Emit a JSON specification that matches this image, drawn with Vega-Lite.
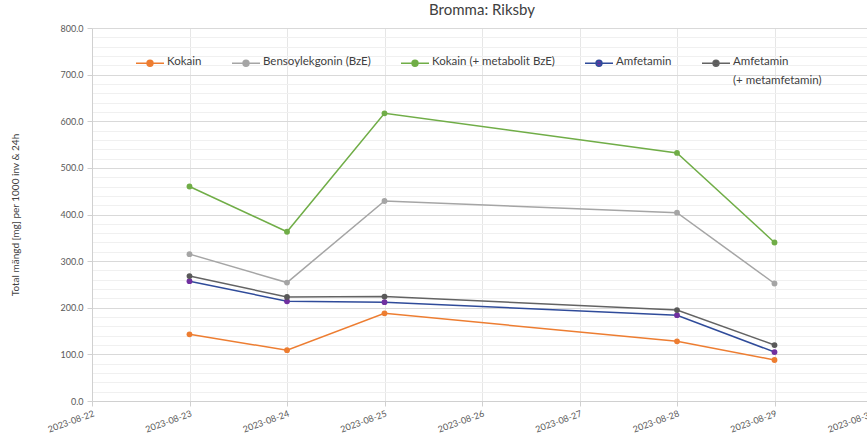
{
  "$schema": "https://vega.github.io/schema/vega-lite/v6.json",
  "width": 780,
  "height": 373,
  "autosize": {"type": "none"},
  "padding": {"left": 92, "top": 28, "right": 0, "bottom": 45},
  "background": "white",
  "config": {
    "font": "Lato",
    "view": {"stroke": null},
    "title": {"font": "Lato", "fontSize": 15, "fontWeight": "normal", "color": "#404040", "offset": 6}
  },
  "title": {"text": "Bromma: Riksby", "anchor": "middle"},
  "data": {
    "values": [
      {"date": "2023-08-23", "series": "Kokain", "value": 143},
      {"date": "2023-08-24", "series": "Kokain", "value": 109},
      {"date": "2023-08-25", "series": "Kokain", "value": 188},
      {"date": "2023-08-28", "series": "Kokain", "value": 128},
      {"date": "2023-08-29", "series": "Kokain", "value": 88},
      {"date": "2023-08-23", "series": "Bensoylekgonin (BzE)", "value": 315},
      {"date": "2023-08-24", "series": "Bensoylekgonin (BzE)", "value": 254},
      {"date": "2023-08-25", "series": "Bensoylekgonin (BzE)", "value": 429},
      {"date": "2023-08-28", "series": "Bensoylekgonin (BzE)", "value": 404},
      {"date": "2023-08-29", "series": "Bensoylekgonin (BzE)", "value": 252},
      {"date": "2023-08-23", "series": "Kokain (+ metabolit BzE)", "value": 460},
      {"date": "2023-08-24", "series": "Kokain (+ metabolit BzE)", "value": 363},
      {"date": "2023-08-25", "series": "Kokain (+ metabolit BzE)", "value": 617},
      {"date": "2023-08-28", "series": "Kokain (+ metabolit BzE)", "value": 532},
      {"date": "2023-08-29", "series": "Kokain (+ metabolit BzE)", "value": 340},
      {"date": "2023-08-23", "series": "Amfetamin", "value": 257},
      {"date": "2023-08-24", "series": "Amfetamin", "value": 214},
      {"date": "2023-08-25", "series": "Amfetamin", "value": 212},
      {"date": "2023-08-28", "series": "Amfetamin", "value": 184},
      {"date": "2023-08-29", "series": "Amfetamin", "value": 105},
      {"date": "2023-08-23", "series": "Amfetamin (+ metamfetamin)", "value": 268},
      {"date": "2023-08-24", "series": "Amfetamin (+ metamfetamin)", "value": 223},
      {"date": "2023-08-25", "series": "Amfetamin (+ metamfetamin)", "value": 224},
      {"date": "2023-08-28", "series": "Amfetamin (+ metamfetamin)", "value": 195},
      {"date": "2023-08-29", "series": "Amfetamin (+ metamfetamin)", "value": 120}
    ]
  },
  "encoding": {
    "x": {
      "field": "date",
      "type": "temporal",
      "scale": {"type": "utc", "domain": [{"year": 2023, "month": 8, "date": 22, "utc": true}, {"year": 2023, "month": 8, "date": 30, "utc": true}], "nice": false},
      "axis": {
        "title": null,
        "labelExpr": "utcFormat(datum.value, '%Y-%m-%d')",
        "tickCount": {"interval": "day", "step": 1},
        "labelAngle": -20,
        "labelAlign": "right",
        "labelBaseline": "top",
        "labelFontSize": 9,
        "labelColor": "#595959",
        "labelPadding": 3,
        "labelOverlap": false,
        "labelBound": false,
        "labelFlush": false,
        "domainColor": "#d0d0d0",
        "tickColor": "#d0d0d0",
        "tickSize": 5,
        "grid": true,
        "gridColor": "#e6e6e6"
      }
    },
    "y": {
      "field": "value",
      "type": "quantitative",
      "scale": {"domain": [0, 800], "nice": false},
      "axis": {
        "title": "Total mängd [mg] per 1000 inv & 24h",
        "titleFontSize": 10,
        "titleFontWeight": "normal",
        "titleColor": "#404040",
        "titleX": -72,
        "values": [0, 20, 40, 60, 80, 100, 120, 140, 160, 180, 200, 220, 240, 260, 280, 300, 320, 340, 360, 380, 400, 420, 440, 460, 480, 500, 520, 540, 560, 580, 600, 620, 640, 660, 680, 700, 720, 740, 760, 780, 800],
        "labelExpr": "datum.value % 100 === 0 ? format(datum.value, '.1f') : ''",
        "labelFontSize": 9,
        "labelColor": "#595959",
        "labelPadding": 4,
        "domainColor": "#d0d0d0",
        "tickSize": 5,
        "tickColor": {"condition": {"test": "datum.value % 100 === 0", "value": "#d0d0d0"}, "value": "transparent"},
        "gridColor": {"condition": {"test": "datum.value % 100 === 0", "value": "#d9d9d9"}, "value": "#f0f0f0"},
        "labelOverlap": false
      }
    }
  },
  "layer": [
    {
      "mark": {"type": "line", "strokeWidth": 1.5},
      "encoding": {
        "stroke": {
          "field": "series",
          "type": "nominal",
          "scale": {
            "domain": ["Kokain", "Bensoylekgonin (BzE)", "Kokain (+ metabolit BzE)", "Amfetamin", "Amfetamin (+ metamfetamin)"],
            "range": ["#ED7D31", "#A5A5A5", "#70AD47", "#2F4B9A", "#636363"]
          },
          "legend": {
            "title": null,
            "orient": "none",
            "legendX": 43,
            "legendY": 20,
            "direction": "horizontal",
            "columns": 5,
            "columnPadding": 27,
            "symbolType": "M-1,0L1,0M-0.21,0A0.21,0.21,0,1,0,0.21,0A0.21,0.21,0,1,0,-0.21,0Z",
            "symbolSize": 784,
            "symbolStrokeWidth": 1.5,
            "labelFontSize": 11.5,
            "labelColor": "#404040",
            "labelOffset": 2,
            "labelLimit": 300,
            "labelBaseline": "top",
            "labelExpr": "datum.label === 'Amfetamin (+ metamfetamin)' ? ['Amfetamin', '(+ metamfetamin)'] : [datum.label, ' ']",
            "encode": {
              "labels": {"update": {"dy": {"value": -7}, "lineHeight": {"value": 19}}},
              "symbols": {"update": {"fill": {"scale": "fill", "field": "value"}}}
            }
          }
        }
      }
    },
    {
      "mark": {"type": "point", "filled": true, "opacity": 1, "size": 34},
      "encoding": {
        "fill": {
          "field": "series",
          "type": "nominal",
          "scale": {
            "domain": ["Kokain", "Bensoylekgonin (BzE)", "Kokain (+ metabolit BzE)", "Amfetamin", "Amfetamin (+ metamfetamin)"],
            "range": ["#ED7D31", "#A5A5A5", "#70AD47", "#7030A0", "#595959"]
          },
          "legend": null
        }
      }
    }
  ]
}
